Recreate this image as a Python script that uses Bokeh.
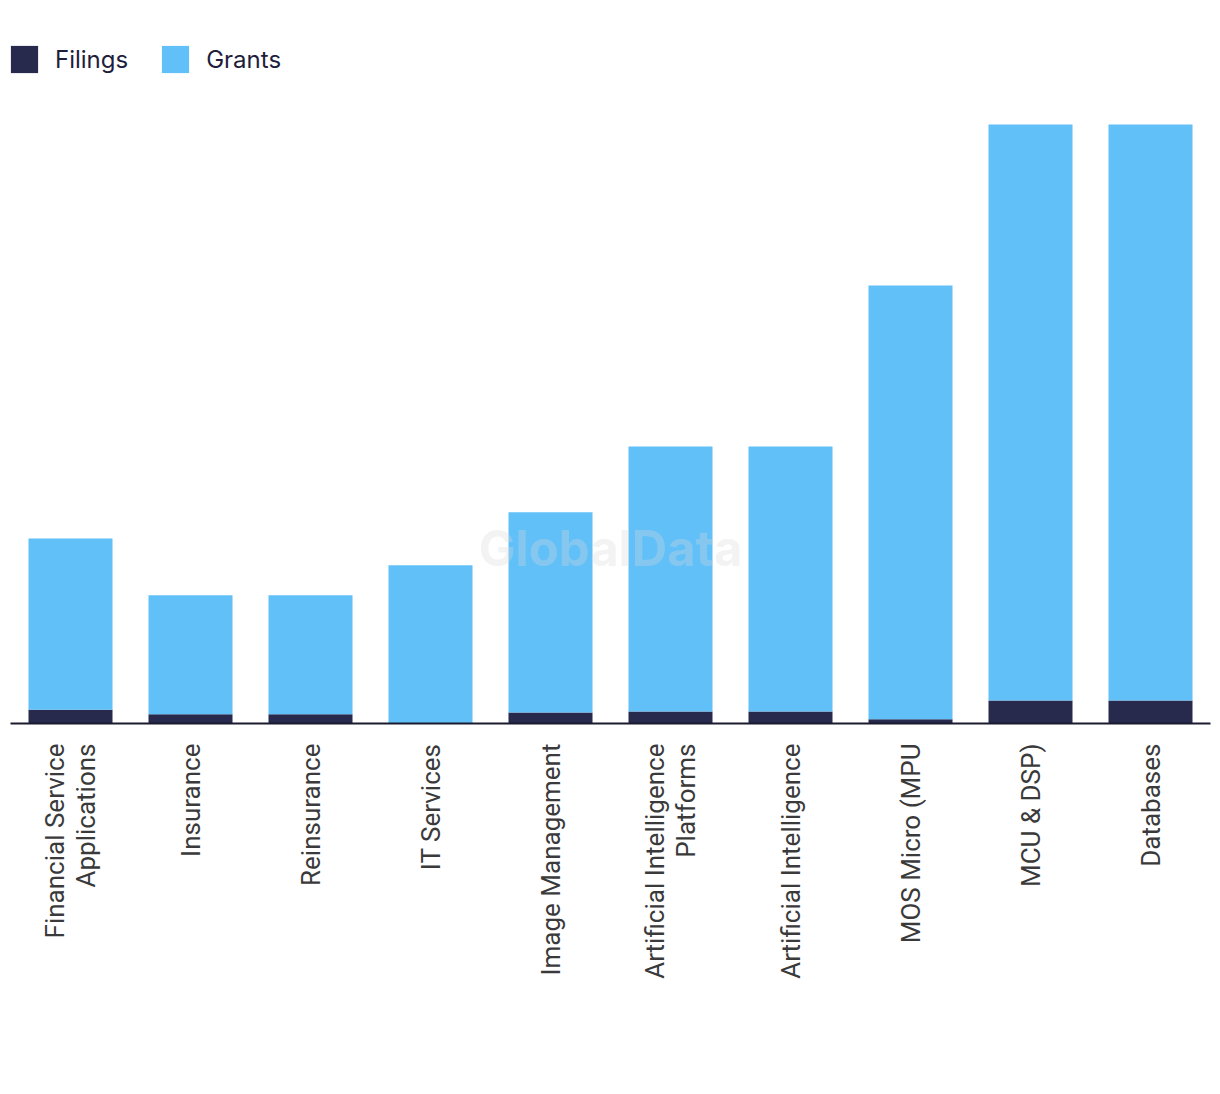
import math
from bokeh.plotting import figure
from bokeh.models import Range1d, Legend, LegendItem, Label, FactorRange
from bokeh.embed import file_html
from bokeh.resources import INLINE

categories = ["Financial Service\nApplications", "Insurance", "Reinsurance", "IT Services",
              "Image Management", "Artificial Intelligence\nPlatforms", "Artificial Intelligence",
              "MOS Micro (MPU", "MCU & DSP)", "Databases"]
filings = [3.0, 2.0, 2.0, 0.0, 2.4, 2.6, 2.6, 0.9, 5.0, 5.0]
grants = [37.1, 25.8, 25.8, 34.3, 43.4, 57.5, 57.5, 94.1, 124.9, 124.9]

FIL_COLOR = "#272a4d"
GR_COLOR = "#62c0f9"

p = figure(x_range=FactorRange(*categories, range_padding=0), y_range=Range1d(0, 150.3),
           frame_width=1200, frame_height=693, output_backend="svg", toolbar_location=None,
           min_border_left=10, min_border_right=10, min_border_top=30, min_border_bottom=330)
p.outline_line_color = None
p.xgrid.visible = False
p.ygrid.visible = False
p.yaxis.visible = False

data = dict(cat=categories, Filings=filings, Grants=grants)
rs = p.vbar_stack(["Filings", "Grants"], x="cat", width=0.7, source=data,
                  color=[FIL_COLOR, GR_COLOR], line_color=None)

xa = p.xaxis[0]
xa.major_label_orientation = math.pi / 2
xa.major_tick_line_color = None
xa.minor_tick_line_color = None
xa.major_tick_out = 0
xa.major_tick_in = 0
xa.major_label_standoff = 20
xa.major_label_text_font = "Roboto"
xa.major_label_text_font_size = "26px"
xa.major_label_text_line_height = 1.05
xa.major_label_text_color = "#3a3a3a"
xa.axis_line_color = "#1b1b2f"
xa.axis_line_width = 2

wm = Label(x=5.0, y=38.0, text="GlobalData", text_font="Inter", text_font_style="bold",
           text_font_size="49px", text_color="#d8d8d8", text_alpha=0.3,
           text_align="center", text_baseline="middle")
p.add_layout(wm)

legend = Legend(items=[LegendItem(label="Filings", renderers=[rs[0]]),
                       LegendItem(label="Grants", renderers=[rs[1]])],
                orientation="horizontal", location=(-3, 647),
                glyph_width=34, glyph_height=34, label_standoff=14, spacing=30,
                padding=0, margin=0, border_line_color=None, background_fill_alpha=0,
                label_text_font="Inter", label_text_font_size="24px", label_text_color="#1e1e3c")
p.add_layout(legend)

open("out.html", "w").write(file_html(p, INLINE))
